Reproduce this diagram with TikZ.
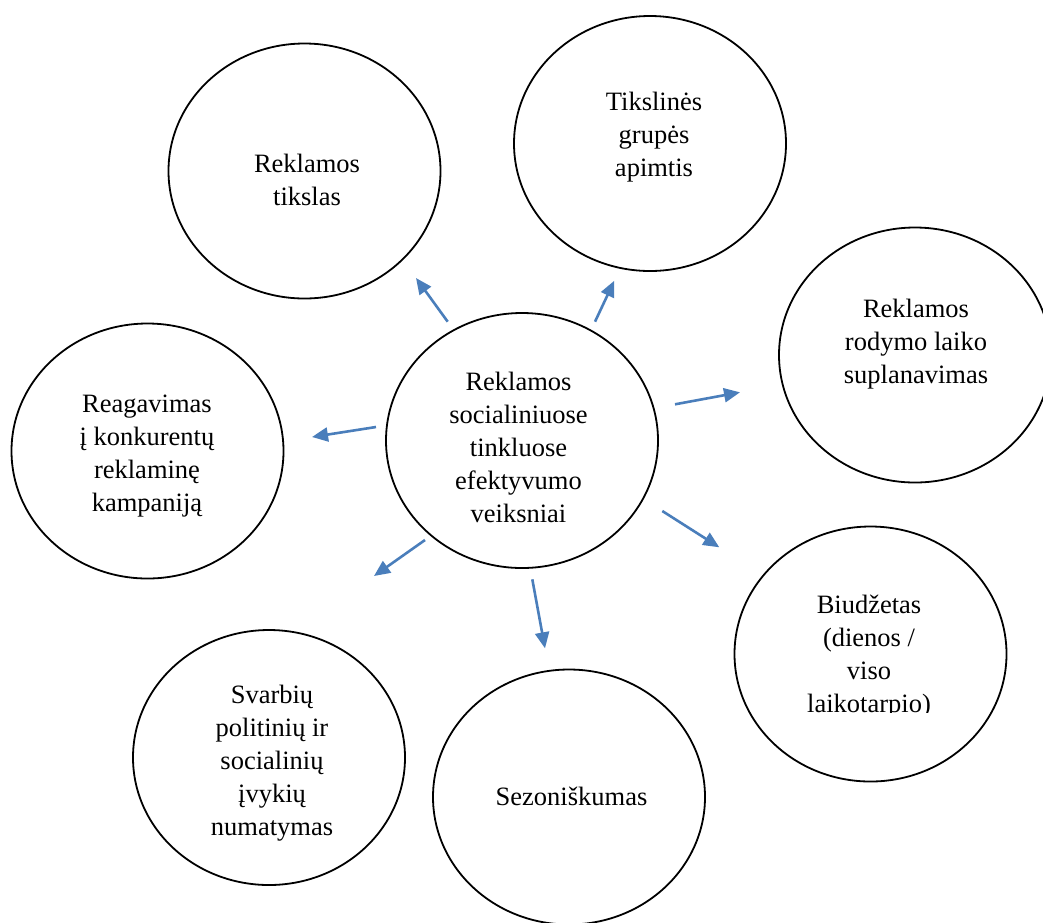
\documentclass[tikz,border=0pt]{standalone}
\usepackage{fontspec}
\setmainfont{Liberation Serif}
\usetikzlibrary{shapes.geometric,arrows.meta}
\definecolor{arrowblue}{RGB}{74,126,187}
\begin{document}
\begin{tikzpicture}[x=1pt,y=-1pt,
  oval/.style={ellipse,draw=black,line width=1.8pt,minimum width=272pt,minimum height=255pt,inner sep=0pt},
  lbl/.style={anchor=north,align=center,inner sep=0pt,font=\fontsize{26.5}{33}\selectfont},
  arr/.style={draw=arrowblue,line width=2.6pt,-{Triangle[length=16pt,width=14pt]}}]
\useasboundingbox (0,0) rectangle (1043,922);
\clip (0,0) rectangle (1043,922);
% ellipses
\node[oval] (tikslas) at (304.5,171) {};
\node[oval] (tikslines) at (650,143.5) {};
\node[oval] (rodymo) at (915,355) {};
\node[oval] (center) at (522,440.5) {};
\node[oval] (reag) at (147.5,451) {};
\node[oval] (biud) at (870.5,654) {};
\node[oval] (svarb) at (269,757.5) {};
\node[oval] (sezon) at (569,797) {};
% texts
\node[lbl] (ttikslas) at (307,154) {Reklamos\\tikslas};
\node[lbl] (ttikslines) at (654,92) {Tikslinės\\grupės\\apimtis};
\node[lbl] (trodymo) at (916,299) {Reklamos\\rodymo laiko\\suplanavimas};
\node[lbl] (tcenter) at (518.5,372) {Reklamos\\socialiniuose\\tinkluose\\efektyvumo\\veiksniai};
\node[lbl] (treag) at (147,395) {Reagavimas\\į konkurentų\\reklaminę\\kampaniją};
\begin{scope}
\clip (700,560) rectangle (1043,712.5);
\node[lbl] (tbiud) at (869,595) {Biudžetas\\(dienos /\\viso\\laikotarpio)};
\end{scope}
\node[lbl] (tsvarb) at (272,685) {Svarbių\\politinių ir\\socialinių\\įvykių\\numatymas};
\node[lbl] (tsezon) at (571.5,787) {Sezoniškumas};
% arrow end points
\coordinate (a1s) at (447.7,321.7); \coordinate (a1e) at (416,278);
\coordinate (a2s) at (595,321.7);   \coordinate (a2e) at (614.3,280.7);
\coordinate (a3s) at (675,404.3);   \coordinate (a3e) at (740,392.3);
\coordinate (a4s) at (662.3,511);   \coordinate (a4e) at (719.3,547.3);
\coordinate (a5s) at (532.3,579.3); \coordinate (a5e) at (545,648.3);
\coordinate (a6s) at (425,540);     \coordinate (a6e) at (374,576);
\coordinate (a7s) at (376,427);     \coordinate (a7e) at (312,437);
\draw[arr] (a1s) -- (a1e);
\draw[arr] (a2s) -- (a2e);
\draw[arr] (a3s) -- (a3e);
\draw[arr] (a4s) -- (a4e);
\draw[arr] (a5s) -- (a5e);
\draw[arr] (a6s) -- (a6e);
\draw[arr] (a7s) -- (a7e);
\end{tikzpicture}
\end{document}
